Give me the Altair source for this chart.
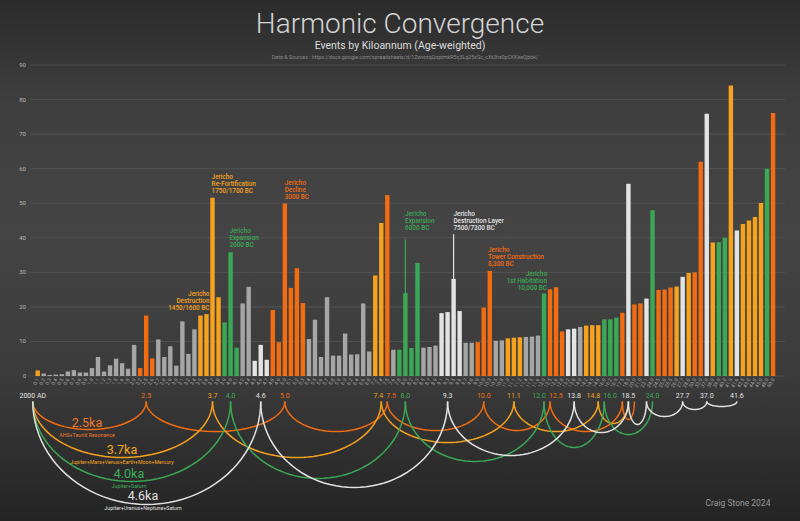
import altair as alt
import pandas as pd
import numpy as np

# ---------------- data ----------------
ka_labels = ["0.1","0.2","0.3","0.4","0.5","0.6","0.7","0.8","0.9","1.0",
             "1.1","1.2","1.3","1.5","1.6","1.8","2.0","2.2","2.5","2.6",
             "2.7","2.8","2.9","3.0","3.1","3.2","3.4","3.5","3.6","3.7",
             "3.8","3.9","4.0","4.1","4.2","4.4","4.5","4.6","4.7","4.8",
             "4.9","5.0","5.1","5.2","5.3","5.4","5.5","5.6","5.7","5.8",
             "5.9","6.0","6.2","6.4","6.6","6.8","7.2","7.4","7.5","7.6",
             "7.8","8.0","8.2","8.3","8.5","8.7","8.9","9.1","9.3","9.5",
             "9.6","9.7","9.8","9.9","10.0","10.3","10.5","10.8","11.0","11.1",
             "11.2","11.4","11.5","11.6","12.0","12.5","12.6","12.8","13.2","13.8",
             "14.0","14.2","14.5","14.8","16.0","16.2","16.5","17.5","18.5","20.0",
             "21.0","23.1","24.0","24.5","25.0","25.5","26.0","27.7","28.0","30.0",
             "32.0","37.0","38.0","39.0","40.0","41.0","41.6","42.5","43.0","44.0",
             "45.0","48.0","50.0"]

event_weight = [1.6,0.7,0.3,0.4,0.5,1.3,1.7,1.0,1.0,2.3,
                5.5,1.3,3.1,5.0,3.7,2.1,9.0,2.3,17.5,5.1,
                10.6,5.5,8.6,3.0,15.8,6.4,13.5,17.5,17.9,51.6,
                22.8,15.5,35.8,8.2,21.0,25.8,4.4,9.0,4.7,19.1,
                9.8,49.9,25.5,31.2,21.1,10.7,16.3,5.5,22.8,5.9,
                5.9,12.3,6.2,6.3,21.0,7.1,29.1,44.3,52.4,7.6,
                7.6,24.0,8.1,32.7,8.2,8.4,8.8,18.2,18.5,28.1,
                18.8,9.6,9.6,9.8,19.8,30.4,10.2,10.3,10.9,11.1,
                11.2,11.3,11.4,11.7,23.9,25.1,25.7,12.9,13.5,13.7,
                14.2,14.6,14.7,14.7,16.4,16.4,16.9,18.3,55.6,20.7,
                21.0,22.4,48.0,24.9,25.0,25.6,25.9,28.7,29.8,30.0,
                62.0,75.9,38.6,38.7,40.0,84.1,42.1,44.0,45.0,46.0,
                50.1,60.0,76.1]

# O = 2.5ka orange, A = 3.7ka amber, G = 4.0ka green, W = 4.6ka white, S = other (grey)
event_group = ["A","S","S","S","S","S","S","S","S","S",
               "S","S","S","S","S","S","S","O","O","O",
               "S","S","S","S","S","S","S","A","A","A",
               "A","G","G","G","S","S","W","W","W","O",
               "O","O","O","O","O","S","S","S","S","S",
               "S","S","S","S","S","S","A","A","O","S",
               "G","G","G","G","S","S","S","W","W","W",
               "W","S","S","O","O","O","S","S","A","A",
               "A","S","S","S","G","O","O","O","W","W",
               "S","A","A","A","G","G","G","O","W","O",
               "O","W","G","O","O","O","A","W","A","O",
               "O","W","A","G","G","A","W","A","A","A",
               "A","G","O"]

y_ticks = [0, 10, 20, 30, 40, 50, 60, 70, 80, 90]

# harmonic nodes under the axis
node_text  = ["2000 AD","2.5","3.7","4.0","4.6","5.0","7.4","7.5","8.0","9.3","10.0","11.1",
              "12.0","12.5","13.8","14.8","16.0","18.5","24.0","27.7","37.0","41.6"]
node_bar   = [0.18,19,30,33,38,42,58,59,62,69,75,80,85,86,90,94,95,99,103,108,112,117]
node_group = ["W","O","A","G","W","O","A","O","G","W","O","A","G","O","W","A","G","W","G","W","W","W"]
node_align = ["center","center","center","center","center","center","right","left","center","center","center","center",
              "right","left","center","right","left","center","center","center","center","center"]

# arcs between harmonic nodes: group, from bar, to bar, depth (px)
arc_group = ["O","O","O","O","O","O","O",
             "A","A","A","A","A",
             "G","G","G","G","G",
             "W","W","W","W","W","W","W","W"]
arc_from  = [0.18,19,42,59,75,86,98,
             0.18,30,58,80,94,
             0.18,33,62,85,95,
             0.18,38,69,90,99,102,108,112]
arc_to    = [19,42,59,75,86,98,100,
             30,58,80,94,99,
             33,62,85,95,103,
             38,69,90,99,102,108,112,117]
arc_depth = [28,30,30,29,29,30,18,
             56,56,41,30,22,
             80,77,60,46,33,
             103,86,54,31,23,15,8,5]

ann_text = ["Jericho\nDestruction\n1450/1600 BC",
            "Jericho\nRe-Fortification\n1750/1700 BC",
            "Jericho\nExpansion\n2000 BC",
            "Jericho\nDecline\n3000 BC",
            "Jericho\nExpansion\n6000 BC",
            "Jericho\nDestruction Layer\n7500/7300 BC",
            "Jericho\nTower Construction\n8,300 BC",
            "Jericho\n1st Habitation\n10,000 BC"]
ann_bar   = [29.5, 29.85, 32.8, 41.97, 61.94, 69.97, 75.7, 85.5]
ann_top   = [24.6, 58.4, 42.8, 56.8, 47.8, 47.8, 37.3, 30.4]
ann_group = ["A","A","G","O","G","W","O","G"]
ann_align = ["right","left","left","left","left","left","left","right"]

pointer_bar = [62, 70]
pointer_top = [39.5, 41.0]
pointer_group = ["G", "W"]

legend_title = ["2.5ka", "3.7ka", "4.0ka", "4.6ka"]
legend_sub = ["AHS+Taurid Resonance", "Jupiter+Mars+Venus+Earth+Moon+Mercury",
              "Jupiter+Saturn", "Jupiter+Uranus+Neptune+Saturn"]
legend_group = ["O", "A", "G", "W"]

# ---------------- styling ----------------
GROUP_COLORS = {"O": "#f26c12", "A": "#f7a21d", "G": "#3ba855", "S": "#a6a6a6", "W": "#e3e3e3"}
TEXT_COLORS = {"O": "#f07a2a", "A": "#f5a623", "G": "#3dae5a", "S": "#b0b0b0", "W": "#e0e0e0"}
W, H = 755, 311
PX = H / 90.0          # pixels per y unit
FONT = "Roboto"

color_scale = alt.Scale(domain=list(GROUP_COLORS), range=list(GROUP_COLORS.values()))
text_scale = alt.Scale(domain=list(TEXT_COLORS), range=list(TEXT_COLORS.values()))
xsc = alt.Scale(domain=[0.55, 124.15], nice=False, zero=False)
ysc = alt.Scale(domain=[0, 90], nice=False, zero=False)


def X(field):
    return alt.X(field, scale=xsc, axis=None)


def Y(field):
    return alt.Y(field, scale=ysc, axis=None)


# ---------------- tables ----------------
bars = pd.DataFrame({"x": list(range(1, len(event_weight) + 1)), "y": event_weight,
                     "g": event_group, "lab": ka_labels})
bars["ly"] = -2.5 / PX
grid = pd.DataFrame({"y": y_ticks, "t": [str(v) for v in y_ticks]})

ARC_TOP = 25.5
rows = []
for i, (g, a, b, d) in enumerate(zip(arc_group, arc_from, arc_to, arc_depth)):
    for k, t in enumerate(np.linspace(0, np.pi, 49)):
        rows.append({"arc": i, "o": k, "x": a + (b - a) * (1 - np.cos(t)) / 2,
                     "y": -(ARC_TOP + d * np.sin(t)) / PX, "g": g})
arcs = pd.DataFrame(rows)

nodes = pd.DataFrame({"x": node_bar, "t": node_text, "g": node_group, "al": node_align,
                      "y": [-20.3 / PX] * len(node_text)})
ann = pd.DataFrame({"x": ann_bar, "y": ann_top, "t": ann_text, "g": ann_group, "al": ann_align})
ptr = pd.DataFrame({"x": pointer_bar, "y": pointer_top,
                    "y2": [event_weight[b - 1] for b in pointer_bar], "g": pointer_group})

# ---------------- layers ----------------
one = pd.DataFrame({"a": [0]})
bg = alt.Chart(one).mark_rect(
    color=alt.LinearGradient(gradient="linear", x1=0, x2=0, y1=0, y2=1,
                             stops=[alt.GradientStop(offset=0, color="#2b2b2b"),
                                    alt.GradientStop(offset=0.2, color="#3f3f3f"),
                                    alt.GradientStop(offset=0.45, color="#444444"),
                                    alt.GradientStop(offset=0.72, color="#3b3b3b"),
                                    alt.GradientStop(offset=1, color="#242424")])
).encode(x=alt.value(-30), x2=alt.value(770), y=alt.value(-65), y2=alt.value(456))

grid_layer = alt.Chart(grid).mark_rule(color="#575757", strokeWidth=0.8).encode(
    y=Y("y:Q"), x=alt.value(0), x2=alt.value(W))

ylab_layer = alt.Chart(grid).mark_text(align="right", baseline="middle", fontSize=6,
                                       font=FONT, color="#b8b8b8").encode(
    y=Y("y:Q"), x=alt.value(-4), text="t:N")

bar_layer = alt.Chart(bars).mark_bar(size=4.4).encode(
    x=X("x:Q"), y=Y("y:Q"),
    color=alt.Color("g:N", scale=color_scale, legend=None),
    tooltip=["lab:N", "y:Q"])

xlab_layer = alt.Chart(bars).mark_text(angle=300, align="right", baseline="middle",
                                       fontSize=5, font=FONT, color="#a8a8a8").encode(
    x=X("x:Q"), y=Y("ly:Q"), text="lab:N")

arc_layer = alt.Chart(arcs).mark_line(strokeWidth=1.5, clip=False).encode(
    x=X("x:Q"), y=Y("y:Q"),
    color=alt.Color("g:N", scale=color_scale, legend=None),
    detail="arc:N", order="o:Q")

ptr_layer = alt.Chart(ptr).mark_rule(strokeWidth=1.2).encode(
    x=X("x:Q"), y=Y("y:Q"), y2="y2:Q",
    color=alt.Color("g:N", scale=color_scale, legend=None))

layers = [bg, grid_layer, ylab_layer, bar_layer, xlab_layer, arc_layer, ptr_layer]

for al in ["center", "left", "right"]:
    layers.append(alt.Chart(nodes).transform_filter(alt.datum.al == al).mark_text(
        align=al, baseline="middle", fontSize=7, font=FONT, dx={"left": -1, "right": 2, "center": 0}[al]
    ).encode(x=X("x:Q"), y=Y("y:Q"), text="t:N",
             color=alt.Color("g:N", scale=text_scale, legend=None)))

for al in ["left", "right"]:
    layers.append(alt.Chart(ann).transform_filter(alt.datum.al == al).mark_text(
        align=al, baseline="top", fontSize=6.4, lineHeight=6.9, font=FONT, fontWeight=500,
        lineBreak="\n"
    ).encode(x=X("x:Q"), y=Y("y:Q"), text="t:N",
             color=alt.Color("g:N", scale=text_scale, legend=None)))

# legend-like labels under the first arcs
legend_x = [57, 92, 99, 113]
legend_y = [362, 389, 413, 435]
for t, s, g, lx, ly in zip(legend_title, legend_sub, legend_group, legend_x, legend_y):
    c = TEXT_COLORS[g]
    layers.append(alt.Chart(one).mark_text(align="center", baseline="alphabetic", fontSize=12.5,
                                           font=FONT, color=c).encode(
        x=alt.value(lx), y=alt.value(ly), text=alt.value(t)))
    layers.append(alt.Chart(one).mark_text(align="center", baseline="alphabetic", fontSize=5.3,
                                           font=FONT, color=c).encode(
        x=alt.value(lx), y=alt.value(ly + 10), text=alt.value(s)))

# header and credit text
layers.append(alt.Chart(one).mark_text(align="center", baseline="alphabetic", fontSize=28,
                                       font=FONT, fontWeight=300, color="#d4d4d4").encode(
    x=alt.value(370), y=alt.value(-32), text=alt.value("Harmonic Convergence")))
layers.append(alt.Chart(one).mark_text(align="center", baseline="alphabetic", fontSize=10.5,
                                       font=FONT, color="#dcdcdc").encode(
    x=alt.value(370), y=alt.value(-16), text=alt.value("Events by Kiloannum (Age-weighted)")))
layers.append(alt.Chart(one).mark_text(align="center", baseline="alphabetic", fontSize=5.3,
                                       font=FONT, color="#8a8a8a").encode(
    x=alt.value(375), y=alt.value(-6),
    text=alt.value("Data & Sources : https://docs.google.com/spreadsheets/d/1ZwvotqQoptmkR5rj3Lg25xSc_cXt3hx0pCKKke0jbbk/")))
layers.append(alt.Chart(one).mark_text(align="center", baseline="alphabetic", fontSize=8.5,
                                       font=FONT, color="#9a9a9a").encode(
    x=alt.value(708), y=alt.value(441), text=alt.value("Craig Stone 2024")))

chart = alt.layer(*layers).properties(
    width=W, height=H,
    autosize=alt.AutoSizeParams(type="none"),
    padding={"left": 30, "top": 65, "right": 15, "bottom": 145},
    background="#333333"
).configure_view(stroke=None)

chart.save("out.html", embed_options={"renderer": "svg", "actions": False})
